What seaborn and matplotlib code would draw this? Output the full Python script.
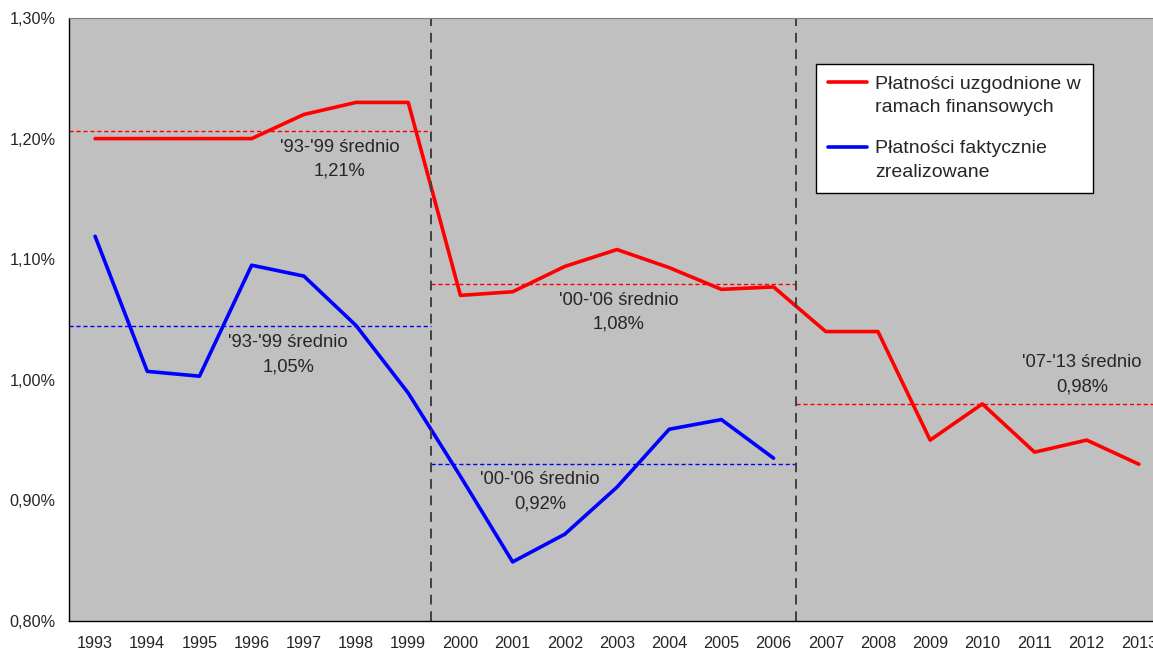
import numpy as np
import pandas as pd
import matplotlib
matplotlib.use('Agg')
import matplotlib.pyplot as plt
import seaborn as sns

years = list(range(1993, 2014))
agreed = [1.200, 1.200, 1.200, 1.200, 1.220, 1.230, 1.230,
          1.070, 1.073, 1.094, 1.108, 1.093, 1.075, 1.077,
          1.040, 1.040, 0.950, 0.980, 0.940, 0.950, 0.930]
actual = [1.119, 1.007, 1.003, 1.095, 1.086, 1.045, 0.989,
          0.920, 0.849, 0.872, 0.911, 0.959, 0.967, 0.935]

label_agreed = 'Płatności uzgodnione w\nramach finansowych'
label_actual = 'Płatności faktycznie\nzrealizowane'

# period averages (start, end, value) and their captions
periods = [1992.5, 1999.43, 2006.43, 2013.5]
avg_agreed = [1.206, 1.0795, 0.980]
avg_actual = [1.045, 0.930]
avg_text_agreed = ["'93-'99 średnio\n1,21%", "'00-'06 średnio\n1,08%", "'07-'13 średnio\n0,98%"]
avg_text_actual = ["'93-'99 średnio\n1,05%", "'00-'06 średnio\n0,92%"]
text_pos_agreed = [(1997.69, 1.183), (2003.03, 1.056), (2011.91, 1.004)]
text_pos_actual = [(1996.70, 1.021), (2001.52, 0.907)]

df = pd.concat([
    pd.DataFrame({'rok': years, 'wartosc': agreed, 'seria': label_agreed}),
    pd.DataFrame({'rok': years[:len(actual)], 'wartosc': actual, 'seria': label_actual}),
])

sns.set_style('white')
plt.rcParams['font.family'] = ['Liberation Sans', 'DejaVu Sans']

fig = plt.figure(figsize=(11.53, 6.52), dpi=100)
ax = fig.add_axes([69 / 1153, 31 / 652, 1096 / 1153, 603 / 652])
ax.set_facecolor('#c0c0c0')

palette = {label_agreed: '#ff0000', label_actual: '#0000ff'}
sns.lineplot(data=df, x='rok', y='wartosc', hue='seria', palette=palette,
             linewidth=2.6, ax=ax, legend=True)

# average lines
for i, v in enumerate(avg_agreed):
    ax.plot([periods[i], periods[i + 1]], [v, v], color='#ff0000', lw=1,
            linestyle=(0, (3, 2)))
for i, v in enumerate(avg_actual):
    ax.plot([periods[i], periods[i + 1]], [v, v], color='#0000ff', lw=1,
            linestyle=(0, (3, 2)))

for x in periods[1:3]:
    ax.axvline(x, color='#404040', lw=1.4, linestyle=(0, (5, 3.5)))

for (x, y), t in zip(text_pos_agreed + text_pos_actual, avg_text_agreed + avg_text_actual):
    ax.text(x, y, t, ha='center', va='center', fontsize=13.2, linespacing=1.55)

ax.set_xlim(1992.5, 2013.5)
ax.set_ylim(0.80, 1.30)
ax.set_xticks(years)
ax.set_xticklabels([str(y) for y in years])
ax.set_xticks(np.arange(1992.5, 2014, 1), minor=True)
ax.tick_params(axis='x', which='major', length=0, pad=11, labelsize=11.7)
ax.tick_params(axis='x', which='minor', length=8, direction='inout', width=1, color='black')
yt = [0.80, 0.90, 1.00, 1.10, 1.20, 1.30]
ax.set_yticks(yt)
ax.set_yticklabels([f'{v:.2f}%'.replace('.', ',') for v in yt])
ax.tick_params(axis='y', length=7, direction='inout', width=1, color='black',
               pad=6, labelsize=11.7)
ax.set_xlabel('')
ax.set_ylabel('')

for s in ['left', 'bottom']:
    ax.spines[s].set_color('black')
    ax.spines[s].set_linewidth(1)
ax.spines['top'].set_color('#808080')
ax.spines['right'].set_visible(False)

handles, labels = ax.get_legend_handles_labels()
leg = ax.legend(handles[:2], labels[:2], loc='upper left',
                bbox_to_anchor=(816 / 1153, 1 - 64 / 652), bbox_transform=fig.transFigure,
                fontsize=14, frameon=True, fancybox=False, framealpha=1,
                edgecolor='black', borderpad=0.6, handlelength=2.0,
                handletextpad=0.45, labelspacing=1.25, borderaxespad=0)
leg.get_frame().set_linewidth(1)
for h in leg.get_lines():
    h.set_linewidth(2.6)
for t in leg.get_texts():
    t.set_linespacing(1.5)
# put the handle next to the first line of each two-line label
for col in leg._legend_handle_box.get_children():
    for item in col.get_children():
        item.align = 'top'

fig.savefig('out.png', dpi=100)
